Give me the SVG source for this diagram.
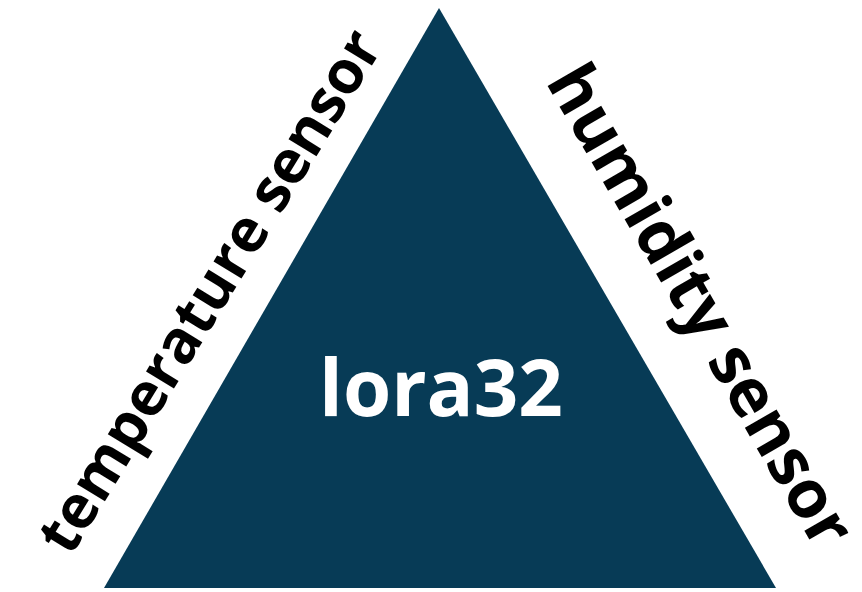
<svg xmlns="http://www.w3.org/2000/svg" width="862" height="592" viewBox="0 0 862 592">
  <style>
    .core { fill: #073b56; }
    .label { font-family: "Open Sans", "Liberation Sans", sans-serif; font-weight: 700; text-anchor: middle; }
    .side { fill: #000000; }
    .title { fill: #ffffff; font-size: 78px; }
  </style>
  <rect width="862" height="592" fill="#ffffff"/>
  <g id="lora32">
    <polygon class="core" points="439,8 776,588 104,588"/>
    <text class="label title" x="441" y="416">lora32</text>
  </g>
  <g id="temperature-sensor">
    <text class="label side" font-size="60" transform="translate(227,302) rotate(-58.5)">temperature sensor</text>
  </g>
  <g id="humidity-sensor">
    <text class="label side" font-size="67" transform="translate(681,317) rotate(60)">humidity sensor</text>
  </g>
  <g id="connectors"/>
</svg>
